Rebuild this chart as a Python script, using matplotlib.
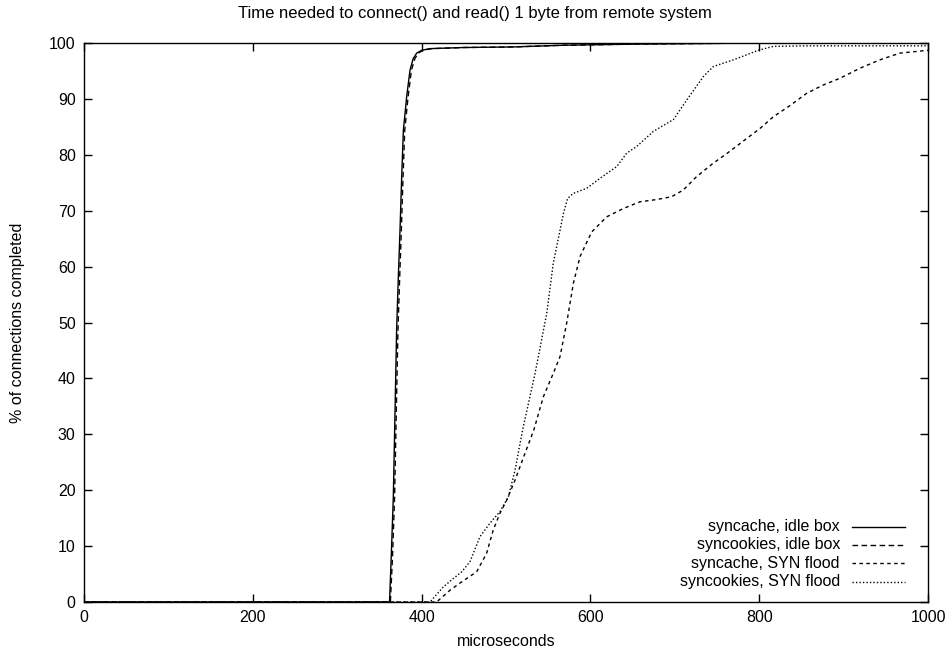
import matplotlib
matplotlib.use("Agg")
import matplotlib.pyplot as plt

plt.rcParams['font.family'] = ['Liberation Sans', 'DejaVu Sans']

# --- data (x in microseconds, y in % completed) ---
syncache_idle_x = [0, 362, 364, 366.5, 368.5, 370.4, 372.4, 374.4, 376.4, 378.4,
                   382.3, 386.3, 390, 394.2, 400, 410, 450, 508, 567, 650, 720, 800, 1000]
syncache_idle_y = [0, 0, 8, 18.8, 34, 48.7, 58, 66.5, 76, 84.4,
                   90.4, 95.2, 97.2, 98.2, 98.7, 99.0, 99.2, 99.3, 99.6, 99.8, 99.9, 100, 100]

syncookies_idle_x = [0, 363, 365.5, 368, 370, 372, 374, 376, 378, 380,
                     384, 388, 392, 396, 402, 412, 450, 508, 567, 650, 720, 800, 1000]
syncookies_idle_y = [0, 0, 8, 18.8, 34, 48.7, 58, 66.5, 76, 84.4,
                     90.4, 95.2, 97.2, 98.2, 98.7, 99.0, 99.2, 99.3, 99.6, 99.8, 99.9, 100, 100]

syncache_flood_x = [0, 417.8, 433.6, 447.5, 465.2, 477, 484.9, 492.9, 500.8, 510.7,
                    521, 533, 544.2, 556, 564, 571.9, 579.8, 587.7, 601.5,
                    619.2, 639, 658.8, 678.5, 696.2, 710, 725.8, 745.5, 761.3, 785,
                    800.8, 816.6, 836.4, 856.2, 876, 895.7, 919.4, 943.1, 966.8, 1000]
syncache_flood_y = [0, 0, 2.1, 3.6, 5.4, 8.7, 12.9, 15.9, 18.2, 21.8,
                    26, 30.8, 36.7, 40.9, 43.9, 49.9, 57.0, 61.8, 66.2,
                    68.9, 70.4, 71.6, 72.0, 72.5, 73.7, 76.1, 78.5, 80.2, 82.9,
                    84.7, 86.8, 88.8, 91.0, 92.5, 93.7, 95.5, 97.0, 98.2, 98.7]

syncookies_flood_x = [0, 410, 425.7, 437.6, 447.5, 457.3, 469.2, 481, 492.9, 502.8,
                      510.7, 519.7, 534.4, 548.2, 556, 564, 568, 573, 579.7, 595.5,
                      611.4, 631.2, 643, 654.9, 674.6, 698.3, 714.1, 733.8, 745.7, 769.4,
                      785.2, 798.9, 816.7, 856, 1000]
syncookies_flood_y = [0, 0, 2.7, 4.2, 5.4, 7.2, 11.7, 14.1, 16.2, 18.8,
                      23.6, 30.8, 40.9, 51.6, 60.6, 66.5, 69.5, 72.2, 73.1, 74.0,
                      75.8, 77.9, 80.3, 81.5, 84.2, 86.3, 89.8, 94.0, 95.8, 97.0,
                      97.9, 98.7, 99.4, 99.5, 99.5]

labels = ["syncache, idle box", "syncookies, idle box",
          "syncache, SYN flood", "syncookies, SYN flood"]
styles = ["-", (0, (4, 2.5)), (0, (2.5, 2.5)), (0, (1, 1.5))]

series = [(syncache_idle_x, syncache_idle_y),
          (syncookies_idle_x, syncookies_idle_y),
          (syncache_flood_x, syncache_flood_y),
          (syncookies_flood_x, syncookies_flood_y)]

fig = plt.figure(figsize=(9.49, 6.59), dpi=100)
ax = fig.add_axes([0.0885, 0.0865, 0.8894, 0.8482])

for (xs, ys), ls in zip(series, styles):
    ax.plot(xs, ys, color="black", lw=1.0, linestyle=ls)

ax.set_xlim(0, 1000)
ax.set_ylim(0, 100)
ax.set_xticks(range(0, 1001, 200))
ax.set_yticks(range(0, 101, 10))
ax.tick_params(direction="in", length=6, width=1, top=True, right=True,
               labelsize=11.5, pad=6)
for sp in ax.spines.values():
    sp.set_linewidth(1)

ax.set_xlabel("microseconds", fontsize=11.5, labelpad=6)
ax.set_ylabel("% of connections completed", fontsize=11.5, labelpad=17)
fig.text(0.5, 0.979, "Time needed to connect() and read() 1 byte from remote system",
         ha="center", va="center", fontsize=12)

# gnuplot-style key: right-aligned text, sample line on the right
key_rows = [0.1347, 0.102, 0.0692, 0.0363]
for lab, ls, yk in zip(labels, styles, key_rows):
    ax.text(0.8957, yk, lab, transform=ax.transAxes, ha="right", va="center",
            fontsize=11.5)
    ax.plot([0.9096, 0.9727], [yk, yk], transform=ax.transAxes, color="black",
            lw=1.0, linestyle=ls)

fig.savefig("out.png", dpi=100)
